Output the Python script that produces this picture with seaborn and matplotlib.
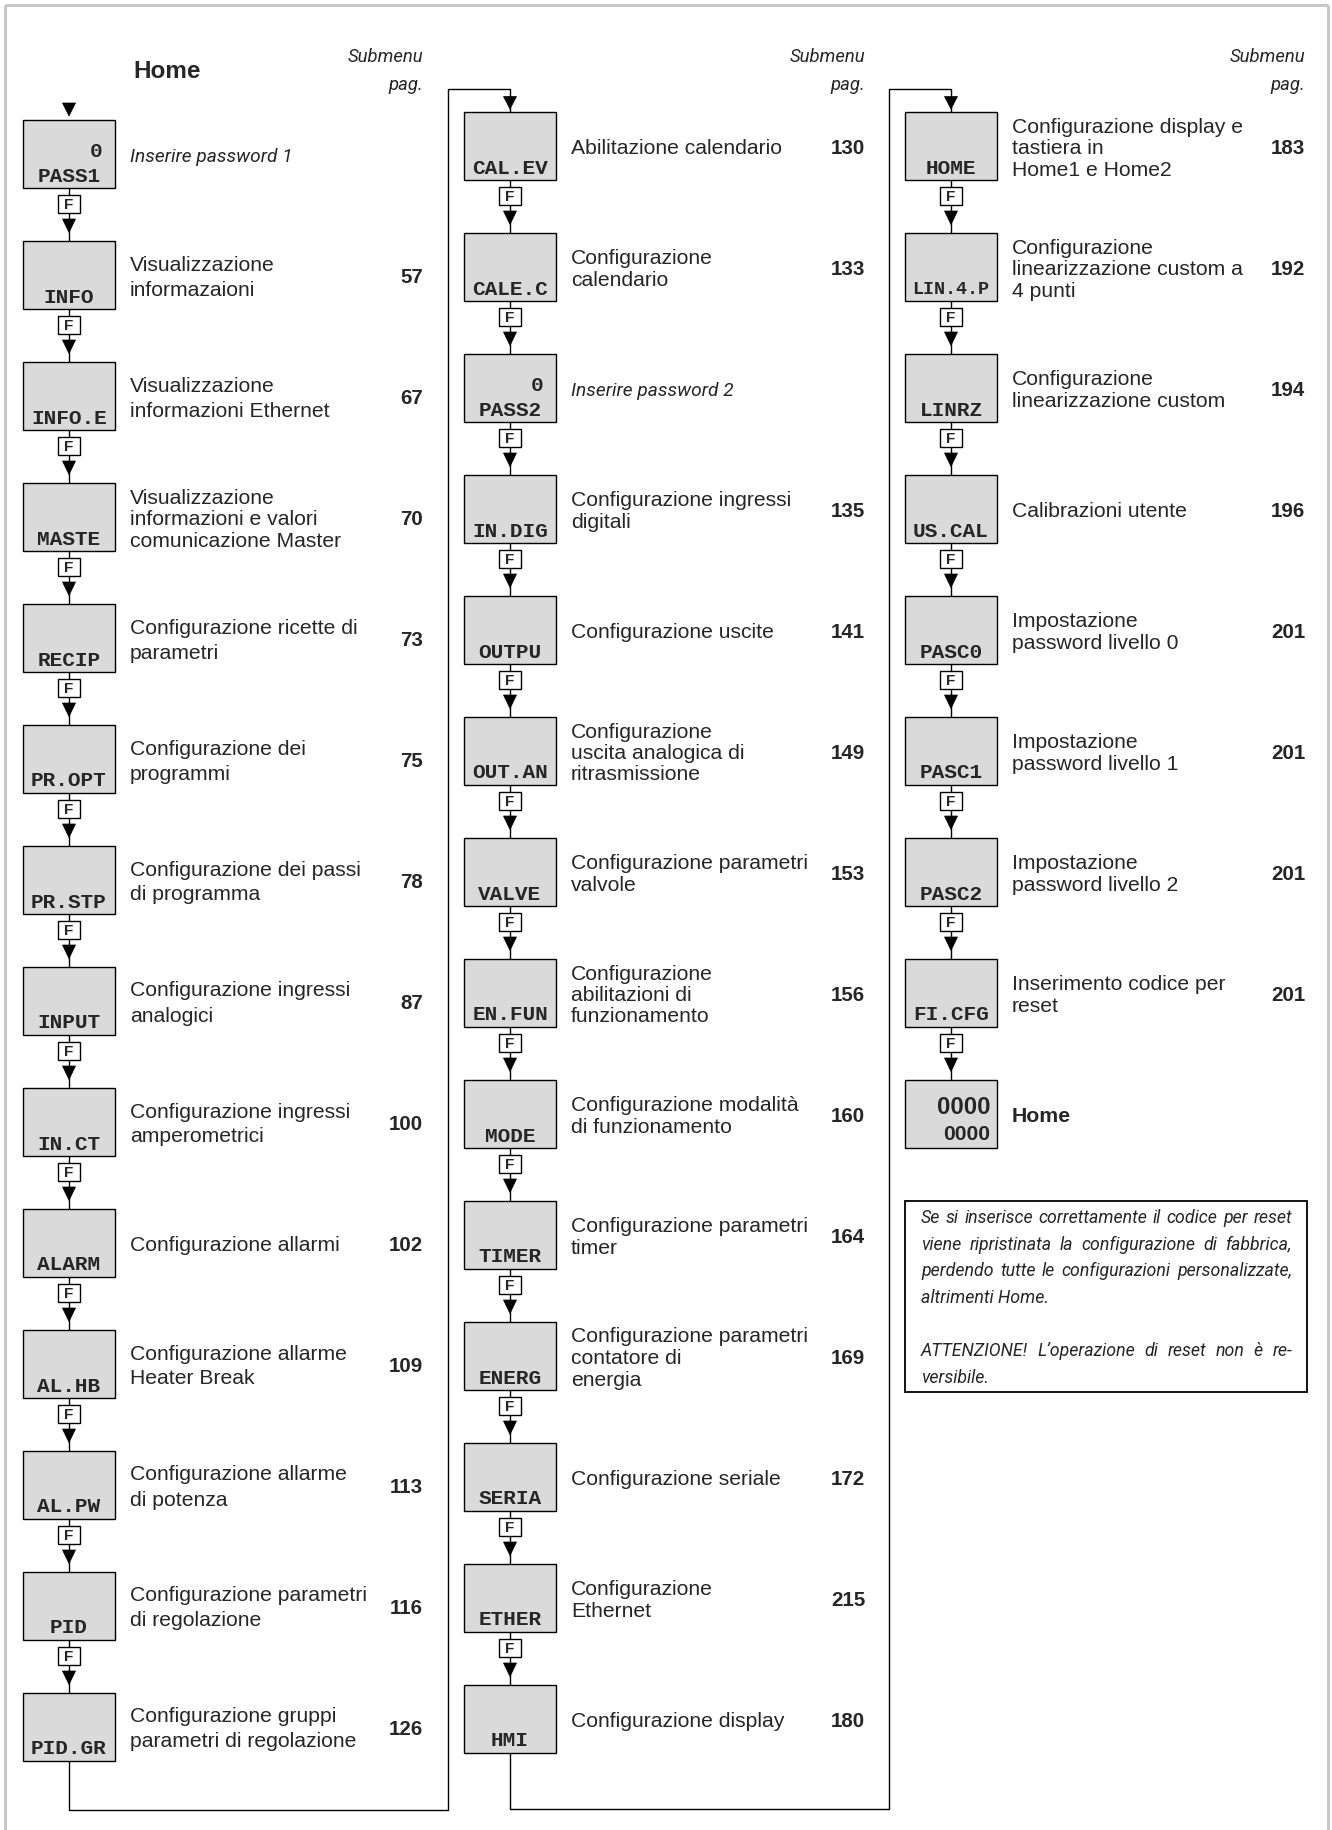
import matplotlib
matplotlib.use("Agg")
from matplotlib import pyplot as plt
from matplotlib import font_manager
from matplotlib.patches import Rectangle, Polygon
import seaborn as sns

# Colonna 1
col1_codes = ["PASS1", "INFO", "INFO.E", "MASTE", "RECIP", "PR.OPT", "PR.STP",
              "INPUT", "IN.CT", "ALARM", "AL.HB", "AL.PW", "PID", "PID.GR"]
col1_desc = ["Inserire password 1",
             "Visualizzazione\ninformazaioni",
             "Visualizzazione\ninformazioni Ethernet",
             "Visualizzazione\ninformazioni e valori\ncomunicazione Master",
             "Configurazione ricette di\nparametri",
             "Configurazione dei\nprogrammi",
             "Configurazione dei passi\ndi programma",
             "Configurazione ingressi\nanalogici",
             "Configurazione ingressi\namperometrici",
             "Configurazione allarmi",
             "Configurazione allarme\nHeater Break",
             "Configurazione allarme\ndi potenza",
             "Configurazione parametri\ndi regolazione",
             "Configurazione gruppi\nparametri di regolazione"]
col1_pages = ["", "57", "67", "70", "73", "75", "78", "87", "100", "102",
              "109", "113", "116", "126"]

# Colonna 2
col2_codes = ["CAL.EV", "CALE.C", "PASS2", "IN.DIG", "OUTPU", "OUT.AN", "VALVE",
              "EN.FUN", "MODE", "TIMER", "ENERG", "SERIA", "ETHER", "HMI"]
col2_desc = ["Abilitazione calendario",
             "Configurazione\ncalendario",
             "Inserire password 2",
             "Configurazione ingressi\ndigitali",
             "Configurazione uscite",
             "Configurazione\nuscita analogica di\nritrasmissione",
             "Configurazione parametri\nvalvole",
             "Configurazione\nabilitazioni di\nfunzionamento",
             "Configurazione modalità\ndi funzionamento",
             "Configurazione parametri\ntimer",
             "Configurazione parametri\ncontatore di\nenergia",
             "Configurazione seriale",
             "Configurazione\nEthernet",
             "Configurazione display"]
col2_pages = ["130", "133", "", "135", "141", "149", "153", "156", "160",
              "164", "169", "172", "215", "180"]

# Colonna 3
col3_codes = ["HOME", "LIN.4.P", "LINRZ", "US.CAL", "PASC0", "PASC1", "PASC2",
              "FI.CFG", "0000"]
col3_desc = ["Configurazione display e\ntastiera in\nHome1 e Home2",
             "Configurazione\nlinearizzazione custom a\n4 punti",
             "Configurazione\nlinearizzazione custom",
             "Calibrazioni utente",
             "Impostazione\npassword livello 0",
             "Impostazione\npassword livello 1",
             "Impostazione\npassword livello 2",
             "Inserimento codice per\nreset",
             "Home"]
col3_pages = ["183", "192", "194", "196", "201", "201", "201", "201", ""]

top_digits = {"PASS1": "0", "PASS2": "0", "0000": "0000"}
italic_items = {"PASS1", "PASS2"}

note_lines = ["Se si inserisce correttamente il codice per reset",
              "viene ripristinata la configurazione di fabbrica,",
              "perdendo tutte le configurazioni personalizzate,",
              "altrimenti Home.",
              "",
              "ATTENZIONE! L\u2019operazione di reset non è re-",
              "versibile."]
note_justify = [True, True, True, False, False, True, False]

sns.set_theme(style="white")
plt.rcParams['font.family'] = ['Liberation Sans', 'DejaVu Sans']

# font stretto per i testi in corsivo
fonts = font_manager.fontManager.ttflist
if any(f.name == 'Liberation Sans Narrow' for f in fonts):
    NARROW, nscale = 'Liberation Sans Narrow', 1.0
elif any(f.name == 'Roboto' and f.style == 'italic' for f in fonts):
    NARROW, nscale = 'Roboto', 0.89
else:
    NARROW, nscale = 'Liberation Sans', 0.84
MONO = 'Liberation Mono'

W, H = 1332, 1831
fig = plt.figure(figsize=(W / 100, H / 100), dpi=100)
ax = fig.add_axes([0, 0, 1, 1])
ax.set_xlim(0, W)
ax.set_ylim(H, 0)
ax.axis('off')
renderer = fig.canvas.get_renderer()

BOX_X = [23, 464, 905]
BOX_Y0 = [121, 113, 113]
STEP, BW, BH = 121, 92, 68
PAGE_X = [423, 865, 1305]
FILL = '#dadada'
LW = 1.0
DESC_FS = 15.2


def arrow(cx, y0, y1):
    ax.add_patch(Polygon([(cx - 6.5, y0), (cx + 6.5, y0), (cx, y1)],
                         closed=True, fc='black', ec='black', lw=0.5, zorder=4))


# cornice esterna
for xs, ys in [([5, 5], [6, H]), ([5, 1328], [6, 6]), ([1328, 1328], [6, H])]:
    ax.plot(xs, ys, color='#c8c8c8', lw=2.2, solid_capstyle='butt')

# intestazioni
ax.text(133, 71, 'Home', fontsize=17.5, fontweight='bold', ha='left', va='center')
for px in PAGE_X:
    ax.text(px, 57, 'Submenu', fontsize=15 * nscale, style='italic', family=NARROW,
            ha='right', va='center')
    ax.text(px, 85, 'pag.', fontsize=15 * nscale, style='italic', family=NARROW,
            ha='right', va='center')

columns = [(col1_codes, col1_desc, col1_pages),
           (col2_codes, col2_desc, col2_pages),
           (col3_codes, col3_desc, col3_pages)]

for c, (codes, descs, pages) in enumerate(columns):
    x0 = BOX_X[c]
    cx = x0 + BW / 2
    for i, (code, desc, page) in enumerate(zip(codes, descs, pages)):
        top = BOX_Y0[c] + i * STEP
        mid = top + BH / 2
        ax.add_patch(Rectangle((x0, top), BW, BH, fc=FILL, ec='black', lw=LW, zorder=3))

        # etichette nel riquadro
        if code == "0000":
            ax.text(x0 + BW - 7, top + 26, top_digits[code], fontsize=17.3,
                    fontweight='bold', ha='right', va='center', zorder=5)
            ax.text(x0 + BW - 7, top + 54, code, fontsize=15.2,
                    fontweight='bold', ha='right', va='center', zorder=5)
        else:
            fs = 15.2 if len(code) <= 6 else 13.2
            ax.text(cx, top + 55, code, family=MONO, fontweight='bold', fontsize=fs,
                    ha='center', va='center', zorder=5)
            if code in top_digits:
                ax.text(x0 + 79, top + 30, top_digits[code], family=MONO,
                        fontweight='bold', fontsize=15.2, ha='right', va='center', zorder=5)

        # descrizione
        lines = desc.split('\n')
        ls = 25 if (c == 0 and len(lines) == 2) else 21.5
        for k, ln in enumerate(lines):
            y = mid + 1.5 + (k - (len(lines) - 1) / 2) * ls
            if code in italic_items:
                ax.text(x0 + 107, y, ln, fontsize=15.5 * nscale, style='italic',
                        family=NARROW, ha='left', va='center')
            elif code == "0000":
                ax.text(x0 + 107, y, ln, fontsize=15.3, fontweight='bold',
                        ha='left', va='center')
            else:
                ax.text(x0 + 107, y, ln, fontsize=DESC_FS, ha='left', va='center')
        if page:
            ax.text(PAGE_X[c], mid + 1.5, page, fontsize=14.8, fontweight='bold',
                    ha='right', va='center')

        # collegamento al riquadro successivo
        if i < len(codes) - 1:
            nxt = top + STEP
            ax.plot([cx, cx], [top + BH, nxt], color='black', lw=LW, zorder=1)
            ax.add_patch(Rectangle((cx - 11, top + BH + 7), 22, 17.5, fc='white',
                                   ec='black', lw=LW, zorder=4))
            ax.text(cx, top + BH + 16, 'F', fontsize=11, fontweight='bold',
                    ha='center', va='center', zorder=5)
            arrow(cx, nxt - 22, nxt - 8.5)

    # freccia d'ingresso
    if c == 0:
        arrow(cx, BOX_Y0[0] - 17, BOX_Y0[0] - 4)
    # anello verso la colonna successiva
    if c < 2:
        last_bottom = BOX_Y0[c] + (len(codes) - 1) * STEP + BH
        nx = BOX_X[c + 1] + BW / 2
        gx = BOX_X[c + 1] - 16.5
        loop_y = last_bottom + 49 if c == 0 else last_bottom + 56
        ax.plot([cx, cx, gx, gx, nx, nx],
                [last_bottom, loop_y, loop_y, 90, 90, BOX_Y0[c + 1]],
                color='black', lw=LW, zorder=1)
        arrow(nx, BOX_Y0[c + 1] - 15.5, BOX_Y0[c + 1] - 3)

# riquadro nota
ax.add_patch(Rectangle((905, 1202), 402, 191, fc='white', ec='black', lw=1.3, zorder=2))
nx0, nx1 = 921, 1292
note_fs = 15 * nscale * 0.96
for k, (ln, just) in enumerate(zip(note_lines, note_justify)):
    if not ln:
        continue
    y = 1218 + k * 26.7
    kw = dict(fontsize=note_fs, style='italic', family=NARROW, va='center', zorder=5)
    if just:
        words = ln.split(' ')
        arts = [ax.text(0, y, w, ha='left', **kw) for w in words]
        widths = [a.get_window_extent(renderer).width for a in arts]
        gap = (nx1 - nx0 - sum(widths)) / (len(words) - 1)
        x = nx0
        for a, wd in zip(arts, widths):
            a.set_x(x)
            x += wd + gap
    else:
        ax.text(nx0, y, ln, ha='left', **kw)

fig.savefig('out.png', dpi=100, facecolor='white')
